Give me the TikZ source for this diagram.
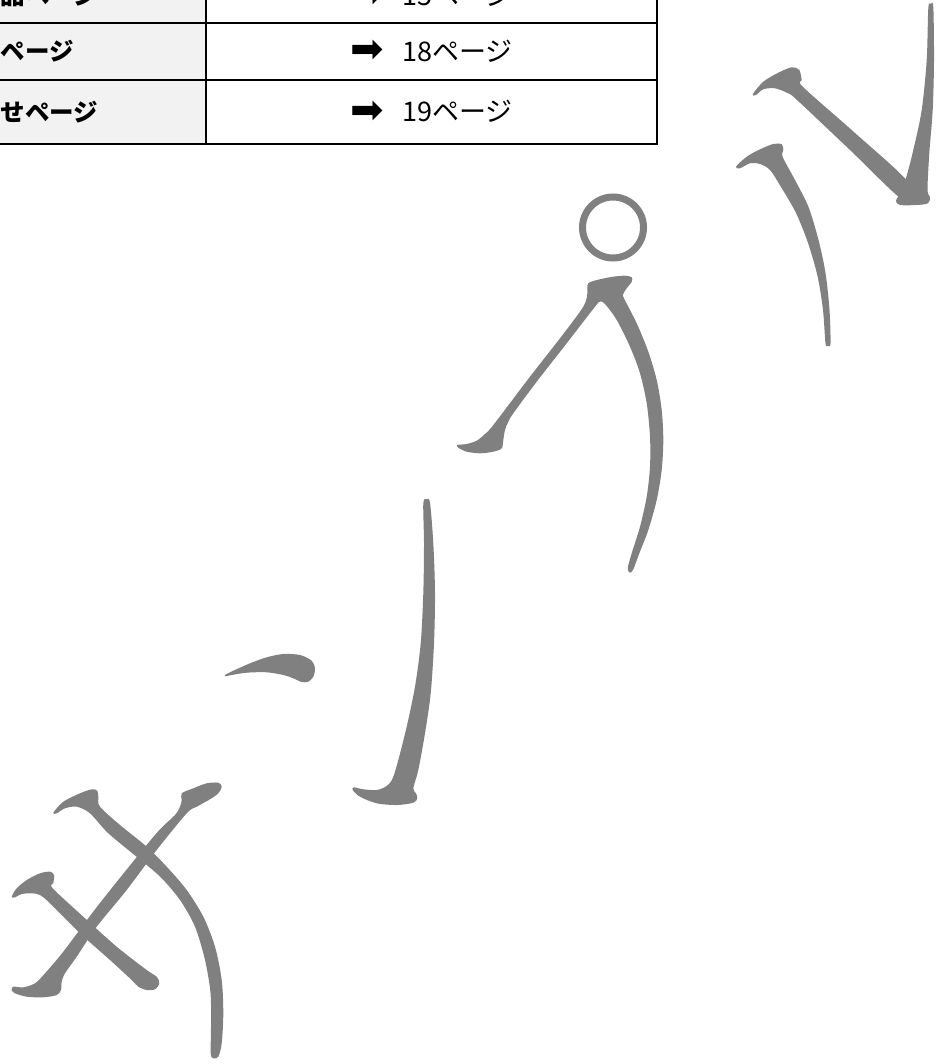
\documentclass[tikz,border=0pt]{standalone}
\usepackage{fontspec}
\setmainfont{Noto Sans CJK JP}
\newfontfamily\arrowfont{DejaVu Sans}
\definecolor{wm}{HTML}{808080}
\definecolor{hdr}{HTML}{F2F2F2}
\tikzset{
  cell/.style={draw=black, line width=2pt, inner sep=0pt, outer sep=0pt, rectangle},
  lcell/.style={cell, fill=hdr, minimum width=406pt},
  rcell/.style={cell, fill=white, minimum width=451pt},
  ltext/.style={font=\fontsize{24.5}{30}\selectfont\bfseries, inner sep=0pt, anchor=west},
  rtext/.style={font=\fontsize{27}{30}\selectfont, inner sep=0pt},
  wmstroke/.style={fill=wm},
  wmring/.style={draw=wm, line width=7pt}
}
\newcommand{\arr}{\raisebox{-1.5pt}{\arrowfont\fontsize{40}{40}\selectfont ➡}\hspace{18pt}}
\begin{document}
\begin{tikzpicture}[x=1pt,y=-1pt]
\useasboundingbox (0,0) rectangle (941,1064);
\clip (0,0) rectangle (941,1064);
% table cells
\node[lcell, minimum height=54pt] (l1) at (3,-4) {};
\node[lcell, minimum height=57pt] (l2) at (3,51.5) {};
\node[lcell, minimum height=64pt] (l3) at (3,112) {};
\node[rcell, minimum height=54pt] (r1) at (431.5,-4) {};
\node[rcell, minimum height=57pt] (r2) at (431.5,51.5) {};
\node[rcell, minimum height=64pt] (r3) at (431.5,112) {};
% texts
\node[ltext] (t1) at (0.5,-4) {品ページ};
\node[ltext] (t2) at (0.5,51.5) {ページ};
\node[ltext] (t3) at (0.5,112) {せページ};
\node[rtext] (u1) at (r1.center) {\arr 15ページ};
\node[rtext] (u2) at (r2.center) {\arr 18ページ};
\node[rtext] (u3) at (r3.center) {\arr 19ページ};
% watermark: サ
\fill[wmstroke] plot[smooth cycle, tension=0.5] coordinates {
 (53.3,812.7) (63.3,801.7) (80,793.3) (91.7,789.3) (97.3,790.7) (98.3,796.7) (100,806.7)
 (120,825) (146.7,846.7) (166.7,866.7) (186.7,890) (203.3,916.7) (215,946.7) (221.7,980)
 (223.3,1013.3) (221.7,1043.3) (218.3,1056.7) (213.3,1058.3) (210.7,1053.3) (211,1026.7)
 (210.5,993) (205,960) (195,926.7) (180,900) (160.5,877) (137.5,857.5) (108,833)
 (90,813.3) (76.7,806.7) (65,808.3) (56.7,813.3)};
\fill[wmstroke] plot[smooth cycle, tension=0.5] coordinates {
 (181.7,793.3) (193.3,788.3) (206.7,783.3) (218.3,782.7) (221.7,786.7) (218.3,793.3)
 (210,799.3) (196.7,806.7) (186.7,813.3) (156.7,850) (126.7,890) (96.7,926.7) (76.7,956.7)
 (65,973.3) (61.7,981.7) (61,990) (56.7,995) (43.3,997.3) (26.7,996.7) (15,993.3)
 (11.7,990) (13.3,986.7) (23.3,987.3) (35,983.3) (45,973.3) (63.3,951.7) (94.5,910)
 (127.5,868.5) (158,831.5) (175,815) (180,806.7) (181.7,800)};
\fill[wmstroke] plot[smooth cycle, tension=0.5] coordinates {
 (11.7,896.7) (16.7,888.3) (26.7,880) (40,873.3) (50,871.7) (54,875) (53.3,883.3)
 (52.7,888.3) (83.3,916.7) (116.7,946.7) (146.7,970) (156.7,976.7) (159.3,983.3)
 (155,989.3) (146.7,990) (138.3,986.7) (131.7,980) (110,960) (80,933.3) (50,903.3)
 (40,895) (31.7,893.3) (21.7,894) (15,897.3)};
% watermark: ン
\fill[wmstroke] plot[smooth cycle, tension=0.5] coordinates {
 (225,675) (233.3,670.7) (250,663.3) (266.7,657.3) (283.3,654) (300,655) (311.7,660.7)
 (315,668.3) (313.3,676.7) (308.3,681.7) (301.7,682) (293.3,678.3) (283.3,675)
 (266.7,672.3) (246.7,672.7) (230,675.3) (226,676.3)};
\fill[wmstroke] plot[smooth cycle, tension=0.5] coordinates {
 (426.7,499.3) (430,502.7) (433.3,543.3) (435,593.3) (434,643.3) (430.7,693.3) (425,733.3)
 (418.3,770) (413.3,788.3) (416,793.3) (417.3,798.3) (413.3,802.7) (396.7,805) (376.7,803.3)
 (360,796.7) (352.7,790) (354,787.3) (363.3,789.3) (376.7,790) (386.7,786) (392.7,778.3)
 (398.3,760) (406.7,726.7) (415,686.7) (420.7,643.3) (423.3,593.3) (424,543.3) (423.3,503.3)};
% watermark: プ
\fill[wmstroke] plot[smooth cycle, tension=0.5] coordinates {
 (588.3,283.3) (600,279.3) (613.3,276.7) (625,275.7) (631.7,277.3) (631.7,281.7) (626.7,288.3)
 (623.3,294) (624,298.3) (636.7,323.3) (648.3,351.7) (656.7,380) (661.7,410) (663.3,440)
 (661.7,470) (656.7,500) (648.3,530) (639.3,553.3) (633.3,569.3) (630,572.7) (627.7,568.3)
 (631.7,553.3) (640,526.7) (646.7,496.7) (650,466.7) (650,436.7) (646.7,403.3) (640,373.3)
 (630,346.7) (616.7,320) (605,304) (600,301.7) (595,306.7) (566.7,343.3) (536.7,381.7)
 (513.3,413.3) (508.3,421.7) (505,430) (503.3,440) (501.7,448.3) (493.3,451.7) (480,453.3)
 (466.7,451.7) (458.3,447.7) (457.3,445) (466.7,444) (476.7,440.7) (485,434) (493.3,425)
 (530,376.7) (560,338.3) (580,311.7) (585.7,301.7) (587.3,293.3)};
\draw[wmring] (613,227.5) circle[radius=30.5pt];
% watermark: ル
\fill[wmstroke] plot[smooth cycle, tension=0.5] coordinates {
 (736,166.7) (746.7,156.7) (760,149.3) (773.3,144) (781.7,144.3) (783.3,150) (782.7,157)
 (795,180) (808.5,207) (818.5,240) (825.5,273) (829.5,310) (830.5,343.3) (828,345.7)
 (825.5,343.3) (823,310) (817.5,276) (808,243) (796,213) (781,187) (770,170) (760,164)
 (750,163.3) (740,168.3)};
\fill[wmstroke] plot[smooth cycle, tension=0.5] coordinates {
 (752.7,94.3) (763.3,81.7) (778.3,72.7) (791.7,67.3) (799.3,70) (801.7,80) (803,87)
 (855,133) (908,182) (903,200) (850,150) (797,100) (788,93.3) (775,88.3) (763.3,89.3) (756,95)};
\fill[wmstroke] plot[smooth cycle, tension=0.5] coordinates {
 (928.3,8.3) (930.7,4) (933.3,7.3) (934,60) (932.7,110) (929.3,153) (927.5,190) (930,197)
 (928,203.3) (916.7,205) (900,205) (896,201) (900,193) (906,178) (913.3,150) (921.7,110)
 (926.7,60)};
\end{tikzpicture}
\end{document}
